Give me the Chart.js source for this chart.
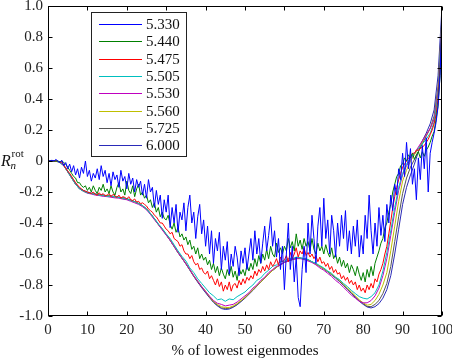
<!DOCTYPE html>
<html>
<head>
<meta charset="utf-8">
<script src="https://cdn.jsdelivr.net/npm/chart.js@4/dist/chart.umd.min.js"></script>
<style>
html,body{margin:0;padding:0;background:#fff;}
#wrap{width:452px;height:360px;}
</style>
</head>
<body>
<div id="wrap"><canvas id="c" width="452" height="360"></canvas></div>
<script>
// ---- data (x = index * step, in % of lowest eigenmodes) ----
const labels = ["5.330","5.440","5.475","5.505","5.530","5.560","5.725","6.000"];
const colors = ["#0000ff","#008000","#ff0000","#00bfbf","#bf00bf","#bfbf00","#555555","#2a2ab8"];
const xTicks = [0,10,20,30,40,50,60,70,80,90,100];
const yTicks = [-1,-0.8,-0.6,-0.4,-0.2,0,0.2,0.4,0.6,0.8,1];

const STEP_FINE = 0.5;   // 5.330, 5.440, 5.475
const STEP = 1;          // the others

const b5330 = [
 0,0,0.005,0,0.01,0,-0.01,0.005,-0.03,-0.01,
 -0.05,-0.02,-0.07,-0.03,-0.09,-0.05,-0.11,-0.04,-0.08,0.0,
 -0.1,-0.06,-0.13,-0.08,-0.11,-0.05,-0.12,-0.03,-0.1,-0.06,
 -0.14,-0.08,-0.16,-0.07,-0.12,-0.09,-0.17,-0.06,-0.13,-0.1,
 -0.18,-0.08,-0.15,-0.11,-0.2,-0.12,-0.17,-0.13,-0.22,-0.15,
 -0.24,-0.12,-0.2,-0.17,-0.3,-0.19,-0.28,-0.22,-0.37,-0.25,
 -0.33,-0.22,-0.43,-0.3,-0.4,-0.28,-0.46,-0.33,-0.38,-0.27,
 -0.45,-0.3,-0.22,-0.4,-0.33,-0.5,-0.36,-0.28,-0.47,-0.38,
 -0.55,-0.42,-0.6,-0.45,-0.66,-0.5,-0.58,-0.46,-0.7,-0.55,
 -0.64,-0.52,-0.73,-0.6,-0.68,-0.55,-0.62,-0.74,-0.58,-0.66,
 -0.56,-0.7,-0.6,-0.5,-0.64,-0.45,-0.6,-0.5,-0.66,-0.53,
 -0.42,-0.58,-0.48,-0.36,-0.55,-0.45,-0.62,-0.5,-0.7,-0.55,
 -0.83,-0.6,-0.4,-0.7,-0.55,-0.78,-0.62,-0.88,-0.94,-0.7,
 -0.55,-0.72,-0.4,-0.6,-0.35,-0.5,-0.66,-0.42,-0.3,-0.55,
 -0.24,-0.5,-0.38,-0.6,-0.35,-0.45,-0.62,-0.4,-0.55,-0.35,
 -0.5,-0.32,-0.58,-0.45,-0.6,-0.42,-0.55,-0.38,-0.62,-0.48,
 -0.6,-0.35,-0.5,-0.22,-0.45,-0.6,-0.4,-0.55,-0.3,-0.48,
 -0.35,-0.52,-0.28,-0.4,-0.22,-0.32,-0.15,-0.22,-0.05,-0.12,
 0.05,-0.1,0.12,-0.05,0.08,-0.15,-0.05,-0.25,0.02,-0.12,
 0.1,-0.05,0.15,-0.2,0.05,0.12,0.18,0.25,0.35,0.55,
 0.92
];
const b5440 = [
 0,0,0,0,0,0,-0.005,0,-0.01,-0.02,
 -0.04,-0.06,-0.08,-0.1,-0.11,-0.14,-0.14,-0.16,-0.17,-0.16,
 -0.19,-0.17,-0.2,-0.16,-0.19,-0.21,-0.17,-0.19,-0.15,-0.2,
 -0.18,-0.21,-0.16,-0.2,-0.22,-0.17,-0.14,-0.2,-0.18,-0.22,
 -0.13,-0.19,-0.21,-0.16,-0.23,-0.18,-0.15,-0.22,-0.2,-0.24,
 -0.22,-0.27,-0.25,-0.3,-0.27,-0.33,-0.3,-0.36,-0.33,-0.37,
 -0.38,-0.35,-0.41,-0.44,-0.4,-0.46,-0.43,-0.49,-0.47,-0.51,
 -0.49,-0.54,-0.51,-0.57,-0.55,-0.6,-0.56,-0.63,-0.6,-0.64,
 -0.62,-0.67,-0.64,-0.7,-0.66,-0.72,-0.68,-0.74,-0.69,-0.73,
 -0.76,-0.7,-0.74,-0.68,-0.75,-0.71,-0.77,-0.69,-0.73,-0.7,
 -0.74,-0.67,-0.71,-0.66,-0.7,-0.63,-0.68,-0.61,-0.66,-0.6,
 -0.64,-0.57,-0.63,-0.55,-0.6,-0.62,-0.53,-0.59,-0.56,-0.6,
 -0.55,-0.58,-0.5,-0.56,-0.52,-0.58,-0.47,-0.55,-0.51,-0.57,
 -0.5,-0.55,-0.52,-0.58,-0.5,-0.57,-0.6,-0.53,-0.58,-0.55,
 -0.6,-0.54,-0.59,-0.62,-0.56,-0.63,-0.6,-0.66,-0.62,-0.68,
 -0.64,-0.69,-0.66,-0.72,-0.67,-0.7,-0.74,-0.68,-0.73,-0.77,
 -0.72,-0.78,-0.7,-0.75,-0.68,-0.74,-0.66,-0.62,-0.58,-0.53,
 -0.5,-0.43,-0.4,-0.33,-0.28,-0.2,-0.15,-0.1,-0.08,-0.03,
 -0.02,0.02,0.0,0.04,0.02,0.05,0.01,0.04,0.06,0.02,
 0.06,0.03,0.07,0.09,0.12,0.16,0.19,0.27,0.36,0.55,
 0.88
];
const b5475 = [
 0,0,0,0,0,0,-0.01,-0.005,-0.03,-0.045,
 -0.065,-0.08,-0.1,-0.12,-0.14,-0.155,-0.17,-0.18,-0.19,-0.195,
 -0.2,-0.205,-0.21,-0.2,-0.215,-0.22,-0.205,-0.22,-0.21,-0.225,
 -0.22,-0.21,-0.23,-0.215,-0.225,-0.235,-0.22,-0.24,-0.23,-0.235,
 -0.245,-0.23,-0.25,-0.255,-0.245,-0.265,-0.26,-0.275,-0.27,-0.28,
 -0.29,-0.31,-0.32,-0.33,-0.35,-0.36,-0.38,-0.4,-0.4,-0.42,
 -0.44,-0.45,-0.47,-0.46,-0.5,-0.51,-0.52,-0.55,-0.54,-0.58,
 -0.6,-0.6,-0.63,-0.61,-0.65,-0.67,-0.66,-0.7,-0.69,-0.72,
 -0.73,-0.71,-0.76,-0.74,-0.77,-0.8,-0.76,-0.81,-0.78,-0.84,
 -0.8,-0.83,-0.78,-0.84,-0.8,-0.79,-0.82,-0.77,-0.8,-0.76,
 -0.79,-0.75,-0.77,-0.74,-0.76,-0.71,-0.74,-0.7,-0.72,-0.68,
 -0.71,-0.67,-0.7,-0.65,-0.68,-0.66,-0.63,-0.67,-0.62,-0.65,
 -0.64,-0.61,-0.65,-0.59,-0.63,-0.6,-0.56,-0.62,-0.58,-0.6,
 -0.56,-0.61,-0.59,-0.62,-0.6,-0.63,-0.61,-0.65,-0.62,-0.66,
 -0.65,-0.68,-0.66,-0.7,-0.68,-0.72,-0.7,-0.73,-0.72,-0.76,
 -0.74,-0.77,-0.75,-0.79,-0.77,-0.8,-0.78,-0.83,-0.8,-0.84,
 -0.82,-0.85,-0.8,-0.83,-0.79,-0.82,-0.76,-0.78,-0.73,-0.7,
 -0.66,-0.6,-0.55,-0.47,-0.39,-0.3,-0.23,-0.17,-0.12,-0.08,
 -0.04,-0.02,0.0,0.02,0.03,0.05,0.05,0.07,0.07,0.08,
 0.09,0.1,0.12,0.14,0.17,0.2,0.24,0.3,0.4,0.6,
 0.9
];
const b5505 = [
 0,0,0,-0.01,-0.03,-0.07,-0.11,-0.15,-0.18,-0.195,
 -0.205,-0.21,-0.215,-0.22,-0.222,-0.228,-0.226,-0.232,-0.235,-0.24,
 -0.245,-0.255,-0.262,-0.275,-0.288,-0.31,-0.34,-0.37,-0.405,-0.435,
 -0.47,-0.5,-0.54,-0.58,-0.615,-0.645,-0.69,-0.72,-0.76,-0.79,
 -0.82,-0.85,-0.87,-0.895,-0.89,-0.905,-0.89,-0.895,-0.875,-0.86,
 -0.845,-0.82,-0.8,-0.77,-0.755,-0.725,-0.705,-0.68,-0.67,-0.65,
 -0.645,-0.63,-0.63,-0.62,-0.625,-0.63,-0.635,-0.65,-0.66,-0.675,
 -0.69,-0.71,-0.725,-0.75,-0.765,-0.79,-0.81,-0.835,-0.855,-0.875,
 -0.885,-0.89,-0.875,-0.85,-0.8,-0.71,-0.59,-0.45,-0.3,-0.17,
 -0.08,-0.02,0.02,0.05,0.08,0.11,0.14,0.18,0.25,0.42,
 0.91
];
const b5530 = [
 0,0,0,-0.01,-0.03,-0.07,-0.11,-0.15,-0.18,-0.195,
 -0.208,-0.213,-0.22,-0.223,-0.228,-0.23,-0.234,-0.238,-0.24,-0.246,
 -0.25,-0.26,-0.27,-0.28,-0.295,-0.315,-0.345,-0.378,-0.41,-0.445,
 -0.478,-0.512,-0.55,-0.59,-0.625,-0.662,-0.7,-0.74,-0.775,-0.81,
 -0.842,-0.872,-0.9,-0.918,-0.925,-0.935,-0.93,-0.925,-0.91,-0.89,
 -0.87,-0.85,-0.82,-0.8,-0.77,-0.75,-0.72,-0.7,-0.68,-0.67,
 -0.655,-0.645,-0.635,-0.63,-0.63,-0.635,-0.645,-0.655,-0.67,-0.69,
 -0.705,-0.725,-0.745,-0.77,-0.79,-0.815,-0.84,-0.865,-0.885,-0.905,
 -0.915,-0.915,-0.9,-0.87,-0.82,-0.74,-0.63,-0.48,-0.33,-0.19,
 -0.09,-0.03,0.01,0.05,0.09,0.13,0.17,0.21,0.27,0.44,
 0.91
];
const b5560 = [
 0,0,0,-0.01,-0.03,-0.07,-0.11,-0.15,-0.18,-0.195,
 -0.205,-0.21,-0.215,-0.22,-0.222,-0.225,-0.228,-0.232,-0.236,-0.24,
 -0.245,-0.255,-0.265,-0.275,-0.29,-0.31,-0.34,-0.375,-0.41,-0.44,
 -0.475,-0.51,-0.55,-0.59,-0.625,-0.66,-0.7,-0.74,-0.775,-0.81,
 -0.84,-0.875,-0.905,-0.925,-0.94,-0.945,-0.945,-0.935,-0.92,-0.9,
 -0.88,-0.855,-0.83,-0.805,-0.78,-0.755,-0.73,-0.705,-0.685,-0.67,
 -0.655,-0.645,-0.637,-0.63,-0.628,-0.632,-0.64,-0.65,-0.665,-0.68,
 -0.695,-0.712,-0.73,-0.75,-0.77,-0.795,-0.82,-0.845,-0.87,-0.895,
 -0.915,-0.93,-0.925,-0.9,-0.86,-0.8,-0.72,-0.58,-0.42,-0.26,
 -0.13,-0.06,0.0,0.04,0.08,0.12,0.17,0.21,0.27,0.45,
 0.92
];
const b5725 = [
 0,0,0,-0.005,-0.028,-0.068,-0.108,-0.148,-0.178,-0.193,
 -0.203,-0.209,-0.214,-0.219,-0.221,-0.224,-0.227,-0.231,-0.235,-0.239,
 -0.244,-0.253,-0.263,-0.274,-0.289,-0.309,-0.339,-0.373,-0.409,-0.44,
 -0.475,-0.511,-0.551,-0.591,-0.627,-0.663,-0.703,-0.743,-0.779,-0.814,
 -0.846,-0.879,-0.909,-0.931,-0.947,-0.952,-0.95,-0.94,-0.925,-0.904,
 -0.883,-0.858,-0.833,-0.806,-0.78,-0.755,-0.73,-0.706,-0.685,-0.669,
 -0.653,-0.644,-0.636,-0.629,-0.627,-0.631,-0.639,-0.65,-0.665,-0.68,
 -0.696,-0.714,-0.733,-0.753,-0.775,-0.8,-0.825,-0.85,-0.876,-0.9,
 -0.92,-0.938,-0.94,-0.925,-0.9,-0.855,-0.79,-0.68,-0.52,-0.36,
 -0.21,-0.11,-0.04,0.01,0.06,0.11,0.16,0.21,0.29,0.48,
 0.94
];
const b6000 = [
 0,0,0,-0.005,-0.025,-0.065,-0.105,-0.145,-0.175,-0.19,
 -0.2,-0.207,-0.212,-0.217,-0.22,-0.223,-0.226,-0.23,-0.234,-0.238,
 -0.243,-0.252,-0.262,-0.273,-0.288,-0.308,-0.338,-0.372,-0.408,-0.44,
 -0.475,-0.512,-0.552,-0.592,-0.628,-0.664,-0.704,-0.745,-0.782,-0.817,
 -0.85,-0.882,-0.912,-0.935,-0.952,-0.958,-0.955,-0.944,-0.928,-0.907,
 -0.885,-0.86,-0.835,-0.808,-0.782,-0.756,-0.73,-0.706,-0.685,-0.668,
 -0.652,-0.642,-0.634,-0.628,-0.626,-0.63,-0.638,-0.65,-0.665,-0.68,
 -0.697,-0.715,-0.735,-0.756,-0.778,-0.803,-0.828,-0.854,-0.88,-0.905,
 -0.925,-0.942,-0.948,-0.94,-0.92,-0.885,-0.83,-0.74,-0.6,-0.44,
 -0.28,-0.17,-0.09,-0.02,0.06,0.13,0.18,0.24,0.33,0.55,
 1.0
];

const series = [b5330,b5440,b5475,b5505,b5530,b5560,b5725,b6000];
const steps  = [STEP_FINE,STEP_FINE,STEP_FINE,STEP,STEP,STEP,STEP,STEP];

const SERIF = '"Liberation Serif","DejaVu Serif",serif';

const datasets = series.map((arr,k)=>({
  label: labels[k],
  data: arr.map((v,i)=>({x:i*steps[k], y:v})),
  borderColor: colors[k],
  backgroundColor: colors[k],
  borderWidth: 1,
  pointRadius: 0,
  tension: 0,
  fill: false
}));

// frame with inward ticks on all four sides
const framePlugin = {
  id:'frame',
  afterDraw(chart){
    const {ctx, chartArea:a, scales:{x,y}} = chart;
    ctx.save();
    ctx.strokeStyle = '#000';
    ctx.lineWidth = 1;
    const L = Math.round(a.left)+0.5, R = Math.round(a.right)-0.5;
    const T = Math.round(a.top)+0.5, B = Math.round(a.bottom)-0.5;
    ctx.strokeRect(L, T, R-L, B-T);
    const tl = 4;
    ctx.beginPath();
    xTicks.forEach(v=>{
      const px = Math.round(x.getPixelForValue(v))+0.5;
      ctx.moveTo(px,B); ctx.lineTo(px,B-tl);
      ctx.moveTo(px,T); ctx.lineTo(px,T+tl);
    });
    yTicks.forEach(v=>{
      const py = Math.round(y.getPixelForValue(v))+0.5;
      ctx.moveTo(L,py); ctx.lineTo(L+tl,py);
      ctx.moveTo(R,py); ctx.lineTo(R-tl,py);
    });
    ctx.stroke();
    ctx.restore();
  }
};

// legend box inside the plot, top-left
const legendPlugin = {
  id:'insideLegend',
  afterDatasetsDraw(chart){
    const ctx = chart.ctx;
    const x0 = 91, y0 = 12, w = 95, h = 144;
    ctx.save();
    ctx.fillStyle = '#fff';
    ctx.fillRect(x0, y0, w, h);
    ctx.strokeStyle = '#222';
    ctx.lineWidth = 1;
    ctx.strokeRect(x0+0.5, y0+0.5, w, h);
    ctx.font = '15px '+SERIF;
    ctx.textBaseline = 'middle';
    ctx.textAlign = 'left';
    chart.data.datasets.forEach((ds,i)=>{
      const yy = Math.round(24 + i*17.3)+0.5;
      ctx.strokeStyle = ds.borderColor;
      ctx.beginPath(); ctx.moveTo(99,yy); ctx.lineTo(142,yy); ctx.stroke();
      ctx.fillStyle = '#111';
      ctx.fillText(ds.label, 146, yy+1);
    });
    ctx.restore();
  }
};

// y-axis label R_n^rot, horizontal
const yLabelPlugin = {
  id:'yLabel',
  afterDraw(chart){
    const ctx = chart.ctx;
    ctx.save();
    ctx.fillStyle = '#111';
    ctx.textBaseline = 'alphabetic';
    ctx.textAlign = 'left';
    ctx.font = 'italic 16px '+SERIF;
    ctx.fillText('R', 1, 165.5);
    ctx.font = '11px '+SERIF;
    ctx.fillText('rot', 11.5, 156.5);
    ctx.font = 'italic 11px '+SERIF;
    ctx.fillText('n', 10.5, 168.5);
    ctx.restore();
  }
};

new Chart(document.getElementById('c'), {
  type:'line',
  data:{datasets},
  options:{
    responsive:false,
    animation:false,
    devicePixelRatio:1,
    layout:{padding:{left:0,right:10,top:6,bottom:0}},
    plugins:{legend:{display:false}, tooltip:{enabled:false}},
    scales:{
      x:{
        type:'linear', min:0, max:100,
        grid:{display:false, drawTicks:false},
        border:{display:false},
        ticks:{stepSize:10, color:'#222', font:{family:SERIF,size:15}, padding:5, maxRotation:0,
               callback:(v)=>String(v)},
        title:{display:true, text:'% of lowest eigenmodes', color:'#111',
               font:{family:SERIF,size:15}, padding:{top:0,bottom:0}},
        afterFit:(s)=>{ s.height = 44; s.paddingLeft = 0; s.paddingRight = 0; }
      },
      y:{
        type:'linear', min:-1, max:1,
        grid:{display:false, drawTicks:false},
        border:{display:false},
        ticks:{stepSize:0.2, color:'#222', font:{family:SERIF,size:15}, padding:5,
               callback:(v)=> Math.abs(v)<1e-9 ? '0' : (Math.round(v*10)/10).toFixed(1)},
        afterFit:(s)=>{ s.width = 48; s.paddingTop = 0; s.paddingBottom = 0; }
      }
    }
  },
  plugins:[framePlugin, legendPlugin, yLabelPlugin]
});
</script>
</body>
</html>
